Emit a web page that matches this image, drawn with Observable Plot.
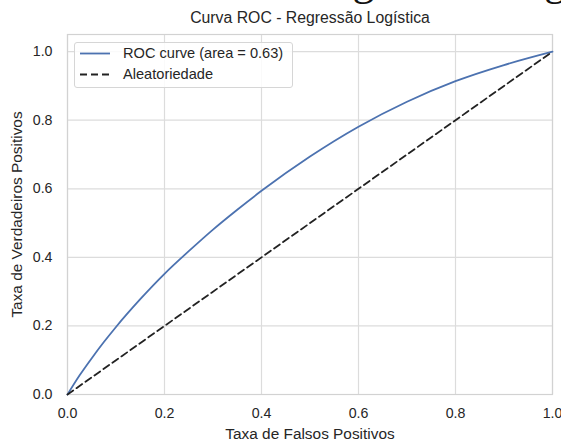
<!DOCTYPE html>
<html><head><meta charset="utf-8">
<script src="https://cdn.jsdelivr.net/npm/d3@7"></script>
<script src="https://cdn.jsdelivr.net/npm/@observablehq/plot@0.6"></script>
<style>
body{margin:0;background:#fff;}
#wrap{position:relative;width:561px;height:443px;overflow:hidden;font-family:"Liberation Sans",Arial,sans-serif;color:#262626;}
#ghost{position:absolute;left:58px;top:-41.5px;font:44px/1 "Liberation Serif",serif;white-space:nowrap;color:#111;}
#legend{position:absolute;left:74px;top:42px;width:219px;height:46px;border:1px solid #d6d6d6;border-radius:3px;background:rgba(255,255,255,0.85);box-sizing:border-box;font-size:14.6px;}
#legend .row{position:absolute;left:0;height:20px;}
#legend svg{position:absolute;left:4px;}
#legend span{position:absolute;left:48px;white-space:nowrap;line-height:17px;}
</style></head><body><div id="wrap"><div id="ghost"></div></div>
<script>
// ROC curve
const fpr = [0, 0.025, 0.05, 0.075, 0.1, 0.15, 0.2, 0.25, 0.3, 0.35, 0.4, 0.5, 0.6, 0.7, 0.8, 0.9, 1.0];
const tpr = [0, 0.056, 0.106, 0.153, 0.197, 0.278, 0.352, 0.418, 0.481, 0.539, 0.594, 0.694, 0.781, 0.854, 0.914, 0.961, 1.0];
const diagX = [0, 1];
const diagY = [0, 1];
const xTicks = [0, 0.2, 0.4, 0.6, 0.8, 1.0];
const yTicks = [0, 0.2, 0.4, 0.6, 0.8, 1.0];
const title = "Curva ROC - Regressão Logística";
const xLabel = "Taxa de Falsos Positivos";
const yLabel = "Taxa de Verdadeiros Positivos";
const legendLabels = ["ROC curve (area = 0.63)", "Aleatoriedade"];
const ghostTitle = "Curva ROC - Regressão Logística";

const roc = fpr.map((x, i) => ({x, y: tpr[i]}));
const diag = diagX.map((x, i) => ({x, y: diagY[i]}));
const blue = "#4c72b0";
const txt = "#262626";

const chart = Plot.plot({
  width: 561, height: 443,
  marginTop: 34, marginBottom: 49, marginLeft: 67, marginRight: 9,
  style: {fontFamily: '"Liberation Sans", Arial, sans-serif', fontSize: "14px", color: txt, background: "transparent"},
  x: {domain: [0, 1]},
  y: {domain: [0, 1.05]},
  marks: [
    Plot.gridX(xTicks, {stroke: "#dcdcdc", strokeOpacity: 1, strokeWidth: 1.2}),
    Plot.gridY(yTicks, {stroke: "#dcdcdc", strokeOpacity: 1, strokeWidth: 1.2}),
    Plot.frame({stroke: "#d2d2d2", strokeWidth: 1.2}),
    Plot.axisX(xTicks, {tickSize: 0, tickPadding: 13, tickFormat: d3.format(".1f"), label: null, fontSize: 14.2, fill: txt}),
    Plot.axisY(yTicks, {tickSize: 0, tickPadding: 15, tickFormat: d3.format(".1f"), label: null, fontSize: 14.2, fill: txt}),
    Plot.line(roc, {x: "x", y: "y", stroke: blue, strokeWidth: 1.8, curve: "monotone-x"}),
    Plot.line(diag, {x: "x", y: "y", stroke: "#222", strokeWidth: 1.8, strokeDasharray: "7,4"}),
    Plot.text([title], {frameAnchor: "top", lineAnchor: "bottom", dy: -12, fontSize: 15.8, fill: txt}),
    Plot.text([xLabel], {frameAnchor: "bottom", lineAnchor: "bottom", dy: 44, fontSize: 15.4, fill: txt}),
    Plot.text([yLabel], {frameAnchor: "left", textAnchor: "middle", rotate: -90, dx: -50, fontSize: 15.4, fill: txt})
  ]
});
const wrap = document.getElementById("wrap");
chart.style.position = "absolute";
chart.style.left = "0"; chart.style.top = "0";
wrap.appendChild(chart);
document.getElementById("ghost").textContent = ghostTitle;

// legend
const leg = document.createElement("div");
leg.id = "legend";
const styles = [{stroke: blue, dash: null}, {stroke: "#222", dash: "7,4"}];
legendLabels.forEach((lab, i) => {
  const row = document.createElement("div");
  row.className = "row";
  row.style.top = (2 + i * 20.5) + "px";
  row.innerHTML = `<svg width="32" height="17"><line x1="1" x2="31" y1="8.5" y2="8.5" stroke="${styles[i].stroke}" stroke-width="1.8" ${styles[i].dash ? `stroke-dasharray="${styles[i].dash}"` : ""}/></svg><span>${lab}</span>`;
  leg.appendChild(row);
});
wrap.appendChild(leg);
</script>
</body></html>
